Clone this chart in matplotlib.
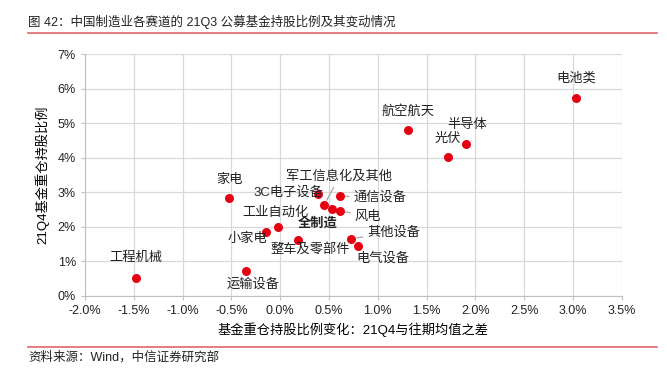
import numpy as np
import matplotlib
matplotlib.use("Agg")
import matplotlib.pyplot as plt
from matplotlib.ticker import FuncFormatter

# data (percent)
names = ["电池类", "航空航天", "半导体", "光伏", "家电", "工程机械", "运输设备",
         "小家电", "工业自动化", "3C电子设备", "军工信息化及其他", "通信设备",
         "风电", "全制造", "整车及零部件", "其他设备", "电气设备"]
xChange = [3.03, 1.31, 1.90, 1.72, -0.52, -1.48, -0.35,
           -0.15, -0.02, 0.39, 0.45, 0.61,
           0.61, 0.53, 0.18, 0.73, 0.80]
yShare = [5.72, 4.80, 4.41, 4.01, 2.83, 0.53, 0.71,
          1.86, 2.00, 2.94, 2.63, 2.89,
          2.47, 2.51, 1.63, 1.66, 1.45]

xTicks = [-2.0, -1.5, -1.0, -0.5, 0.0, 0.5, 1.0, 1.5, 2.0, 2.5, 3.0, 3.5]
yTicks = [0, 1, 2, 3, 4, 5, 6, 7]

# label offsets in pixels (dx, dy) and whether a leader line is drawn
labelPos = {
    "电池类": (0, 20, False), "航空航天": (0, 19, False), "半导体": (1, 19, False),
    "光伏": (0, 18, False), "家电": (0, 18, False), "工程机械": (0, 20, False),
    "运输设备": (7, -13, False), "小家电": (-18, -7, False),
    "工业自动化": (-3, 14, False), "3C电子设备": (-30, 2, False),
    "军工信息化及其他": (15, 28, True), "通信设备": (40, -1, True),
    "风电": (28, -6, True), "全制造": (-14, -14, False),
    "整车及零部件": (12, -10, False), "其他设备": (42, 6, True),
    "电气设备": (25, -13, False),
}

plt.rcParams['font.family'] = ['Liberation Sans', 'Noto Sans CJK SC', 'DejaVu Sans']

fig = plt.figure(figsize=(6.67, 3.71), dpi=100)
ax = fig.add_axes([0.1274, 0.2022, 0.805, 0.6522])

ax.scatter(xChange, yShare, s=42, color="#e60012", zorder=3, linewidths=0)

for n, x, y in zip(names, xChange, yShare):
    dx, dy, line = labelPos[n]
    props = dict(arrowstyle="-", color="#a6a6a6", lw=0.9, shrinkA=1, shrinkB=4) if line else None
    ax.annotate(n, (x, y), xytext=(dx, dy), textcoords="offset pixels",
                ha="center", va="center", fontsize=9.5, color="#222222",
                fontweight="bold" if n == "全制造" else "normal",
                arrowprops=props, zorder=4)

ax.set_xlim(-2.0, 3.5)
ax.set_ylim(0, 7)
ax.set_xticks(xTicks)
ax.set_yticks(yTicks)
ax.xaxis.set_major_formatter(FuncFormatter(lambda v, p: "%.1f%%" % v))
ax.yaxis.set_major_formatter(FuncFormatter(lambda v, p: "%d%%" % v))
ax.grid(True, color="#d9d9d9", lw=0.9)
ax.set_axisbelow(True)
for s in ["top", "right"]:
    ax.spines[s].set_visible(False)
for s in ["left", "bottom"]:
    ax.spines[s].set_color("#bfbfbf")
ax.tick_params(colors="#bfbfbf", labelcolor="#222222", labelsize=9, length=3)

ax.set_xlabel("基金重仓持股比例变化：21Q4与往期均值之差", fontsize=9.5, labelpad=4)
ax.set_ylabel("21Q4基金重仓持股比例", fontsize=9.5, labelpad=6)

# title and source with red rules
fig.text(0.042, 0.94, "图 42：中国制造业各赛道的 21Q3 公募基金持股比例及其变动情况",
         fontsize=9, va="center", color="#222222")
fig.add_artist(plt.Line2D([0.042, 0.985], [0.91, 0.91], color="#e06666", lw=1.2))
fig.add_artist(plt.Line2D([0.042, 0.985], [0.065, 0.065], color="#e06666", lw=1.2))
fig.text(0.042, 0.037, "资料来源：Wind，中信证券研究部", fontsize=9, va="center", color="#222222")

fig.savefig("out.png", dpi=100)
